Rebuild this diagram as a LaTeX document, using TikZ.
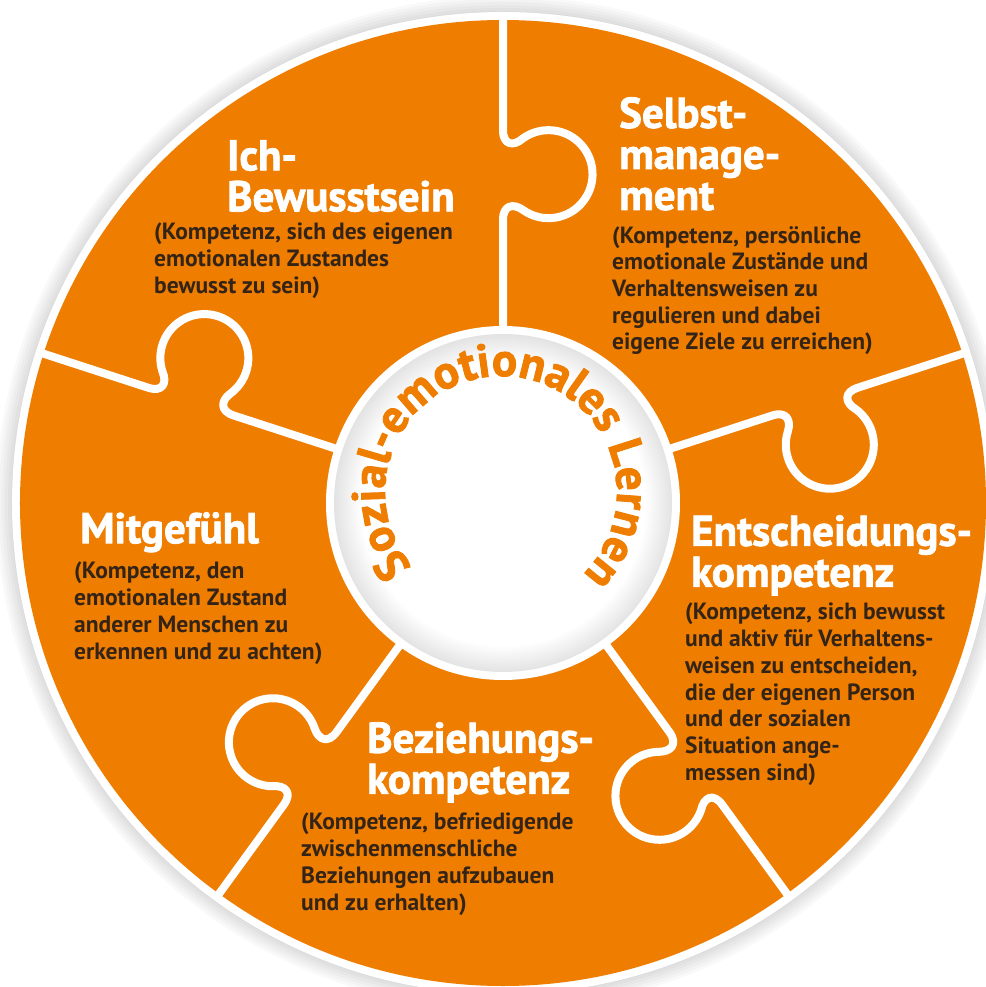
\documentclass[tikz,border=0pt]{standalone}
\usepackage{fontspec}
\setmainfont{PT Sans}
\newfontfamily\headfont{PT Sans}[BoldFeatures={FakeBold=1.8}]
\usetikzlibrary{decorations.text}
\definecolor{seorange}{RGB}{239,125,0}
\definecolor{sebrown}{RGB}{52,36,24}
\tikzstyle{headline}=[anchor=north west, inner sep=0, align=left, text=white, font=\headfont\bfseries\fontsize{43}{41}\selectfont]
\tikzstyle{blurb}=[anchor=north west, inner sep=0, align=left, text=sebrown, font=\bfseries\fontsize{23.5}{26.7}\selectfont]
\tikzstyle{seam}=[draw=white, line width=8pt, line join=round]
\pgfdeclareradialshading{hubglow}{\pgfpointorigin}{color(0bp)=(white); color(21bp)=(white); color(25bp)=(black!11); color(50bp)=(black!11)}
\newcommand{\hubfont}{\headfont\bfseries\fontsize{47}{47}\selectfont}

\begin{document}
\begin{tikzpicture}[x=1pt, y=1pt]
\useasboundingbox (-503,-484) rectangle (482,503);
\fill[white] (-503,-484) rectangle (482,503);

% soft shadow, white rim, orange disc
\foreach \r in {486,489,...,507}
	\fill[black, opacity=0.025] (0,0) circle (\r);
\fill[white] (0,0) circle (491);
\fill[seorange] (0,0) circle (483);

% puzzle seams
\foreach \a in {90,162,234,306,18}
	\draw[seam, rotate=\a] (172,0) -- (283,0) .. controls (298,0) and (300,-10.2) .. (293,-20)
		arc[start angle=144.5, end angle=395.5, radius=44] .. controls (356,-10.2) and (358,0) .. (373,0) -- (487,0);

% hub
\fill[white] (0,0) circle (177);
\shade[shading=hubglow] (0,0) circle (169);
\path[decorate, decoration={text along path, text align=center,
	text={|\hubfont\color{seorange}|Sozial-emotionales Lernen}}]
	(-2,11) ++(235:116) arc[start angle=235, end angle=-60, radius=116];

% texts
\node[headline] (ichhead) at (-276,363) {Ich-\\Bewusstsein};
\node[blurb] (ichbody) at (-349,280) {(Kompetenz, sich des eigenen\\emotionalen Zustandes\\bewusst zu sein)};

\node[headline] (selbsthead) at (116,406) {Selbst-\\manage-\\ment};
\node[blurb] (selbstbody) at (109,277) {(Kompetenz, persönliche\\emotionale Zustände und\\Verhaltensweisen zu\\regulieren und dabei\\eigene Ziele zu erreichen)};

\node[headline] (entschhead) at (188,-12) {Entscheidungs-\\kompetenz};
\node[blurb] (entschbody) at (182,-100) {(Kompetenz, sich bewusst\\und aktiv für Verhaltens-\\weisen zu entscheiden,\\die der eigenen Person\\und der sozialen\\Situation ange-\\messen sind)};

\node[headline] (bezhead) at (-136,-219) {Beziehungs-\\kompetenz};
\node[blurb] (bezbody) at (-202,-310) {(Kompetenz, befriedigende\\zwischenmenschliche\\Beziehungen aufzubauen\\und zu erhalten)};

\node[headline] (mitgefhead) at (-423,-9) {Mitgefühl};
\node[blurb] (mitgefbody) at (-429,-59) {(Kompetenz, den\\emotionalen Zustand\\anderer Menschen zu\\erkennen und zu achten)};
\end{tikzpicture}
\end{document}
